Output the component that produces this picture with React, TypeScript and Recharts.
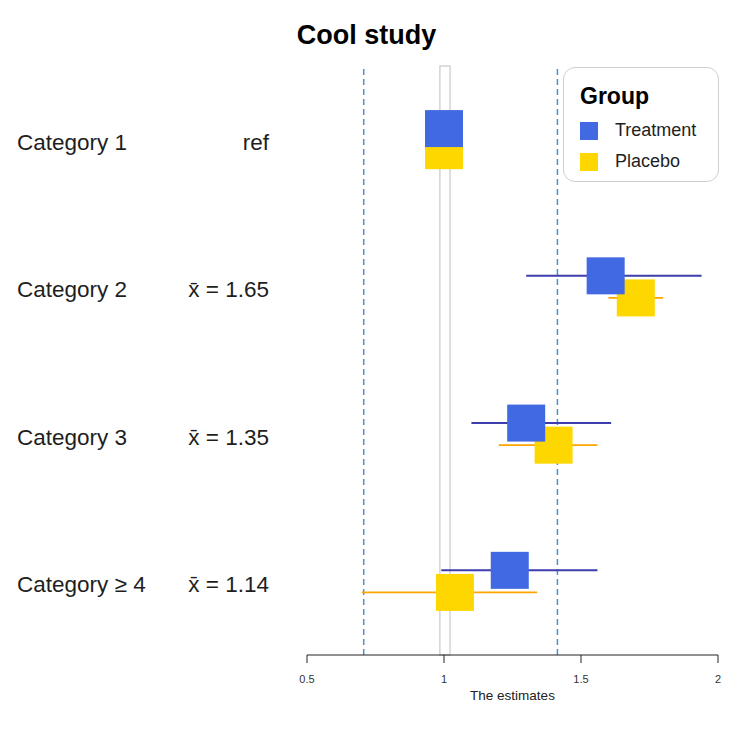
import React from "react"
import {
  ErrorBar,
  Legend,
  ReferenceArea,
  ReferenceLine,
  Scatter,
  ScatterChart,
  XAxis,
  YAxis,
  type LegendProps,
} from "recharts"

const categories = ["Category 1", "Category 2", "Category 3", "Category \u2265 4"]
const meanLabels = ["ref", "x\u0304 = 1.65", "x\u0304 = 1.35", "x\u0304 = 1.14"]

const treatmentEst = [1, 1.59, 1.3, 1.24]
const treatmentLow = [1, 1.3, 1.1, 0.99]
const treatmentHigh = [1, 1.94, 1.61, 1.56]

const placeboEst = [1, 1.7, 1.4, 1.04]
const placeboLow = [1, 1.6, 1.2, 0.7]
const placeboHigh = [1, 1.8, 1.56, 1.34]

const xTicks = [0.5, 1, 1.5, 2]
const dashedRefs = [0.707, 1.414]
const rowTicks = [1, 2, 3, 4]

const FONT = "'Liberation Sans', Arial, sans-serif"
const BLUE = "#4169E1"
const GOLD = "#FFD700"

const buildRows = (est: number[], low: number[], high: number[], shift: number) =>
  categories.map((name, i) => ({
    name,
    x: est[i],
    y: i + 1 + shift,
    err: [est[i] - low[i], high[i] - est[i]],
  }))

const treatmentData = buildRows(treatmentEst, treatmentLow, treatmentHigh, -0.075)
const placeboData = buildRows(placeboEst, placeboLow, placeboHigh, 0.075)

const square = (fill: string) => (props: any) => {
  const { cx, cy } = props
  if (cx == null || cy == null) return <g />
  return <rect x={cx - 19} y={cy - 18.5} width={38} height={37} fill={fill} />
}

const RowTick = ({ y, payload }: any) => {
  const i = Math.round(payload.value) - 1
  return (
    <g fontFamily={FONT} fontSize={22.5} fill="#1e1e1e">
      <text x={17} y={y + 3} dominantBaseline="central">
        {categories[i]}
      </text>
      <text x={269} y={y + 3} dominantBaseline="central" textAnchor="end">
        {meanLabels[i]}
      </text>
    </g>
  )
}

const LegendBox = ({ payload }: LegendProps) => {
  if (!payload?.length) return null
  const items = [...payload].reverse()
  return (
    <div
      style={{
        width: 156,
        height: 115,
        boxSizing: "border-box",
        border: "1px solid #cfcfcf",
        borderRadius: 12,
        background: "#fff",
        fontFamily: FONT,
        padding: "14px 0 0 16px",
      }}
    >
      <div style={{ fontWeight: "bold", fontSize: 23, color: "#000", lineHeight: "28px", marginBottom: 5 }}>Group</div>
      {items.map(item => (
        <div key={String(item.value)} style={{ display: "flex", alignItems: "center", height: 31 }}>
          <span style={{ width: 18, height: 18, background: item.color, display: "inline-block", marginRight: 17 }} />
          <span style={{ fontSize: 18, color: "#1e1e1e" }}>{item.value}</span>
        </div>
      ))}
    </div>
  )
}

export default function App() {
  return (
    <div style={{ position: "absolute", left: 0, top: 0, width: 743, height: 731, background: "#fff" }}>
      <div
        style={{
          position: "absolute",
          left: 0,
          width: 733,
          top: 19,
          textAlign: "center",
          fontFamily: FONT,
          fontWeight: "bold",
          fontSize: 27,
          lineHeight: "32px",
          color: "#000",
          zIndex: 2,
        }}
      >
        Cool study
      </div>
      <ScatterChart width={743} height={731} margin={{ top: 66, right: 25, bottom: 31, left: 0 }}>
        <XAxis
          type="number"
          dataKey="x"
          domain={[0.5, 2]}
          ticks={xTicks}
          allowDataOverflow
          stroke="#222"
          tickSize={8}
          tickMargin={12}
          height={45}
          tick={{ fontSize: 11, fill: "#333", fontFamily: FONT }}
          label={{ value: "The estimates", position: "insideBottom", offset: 0, fontSize: 13.5, fill: "#222", fontFamily: FONT }}
        />
        <YAxis
          type="number"
          dataKey="y"
          domain={[0.5, 4.5]}
          reversed
          ticks={rowTicks}
          width={307}
          axisLine={false}
          tickLine={false}
          tick={<RowTick />}
        />
        <ReferenceArea x1={0.985} x2={1.022} fill="none" stroke="#d4d4d4" strokeWidth={1.5} />
        {dashedRefs.map(v => (
          <ReferenceLine key={v} x={v} stroke="#4f8fca" strokeWidth={1.5} strokeDasharray="6 4" />
        ))}
        <Legend
          layout="vertical"
          align="center"
          verticalAlign="middle"
          wrapperStyle={{ left: 563, top: 67, width: 156, height: 115 }}
          content={props => <LegendBox {...props} />}
        />
        <Scatter name="Placebo" data={placeboData} fill={GOLD} shape={square(GOLD)} isAnimationActive={false}>
          <ErrorBar dataKey="err" direction="x" width={0} stroke="#FFA500" strokeWidth={1.6} />
        </Scatter>
        <Scatter name="Treatment" data={treatmentData} fill={BLUE} shape={square(BLUE)} isAnimationActive={false}>
          <ErrorBar dataKey="err" direction="x" width={0} stroke="#3d3dad" strokeWidth={2} />
        </Scatter>
      </ScatterChart>
    </div>
  )
}
